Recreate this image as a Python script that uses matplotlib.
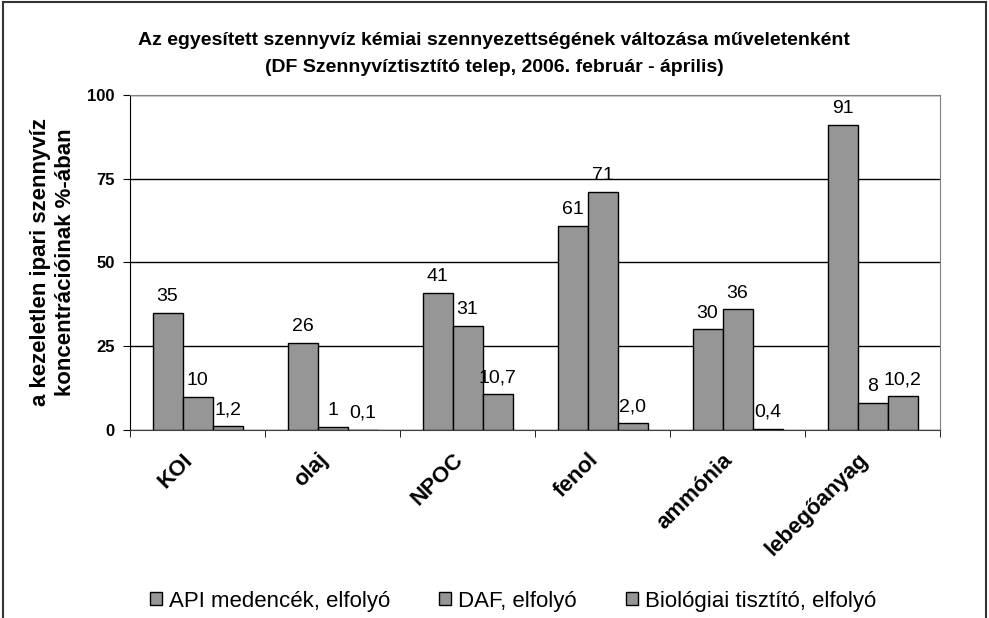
import matplotlib
matplotlib.use("Agg")
import matplotlib.pyplot as plt
import matplotlib.transforms as mtransforms
import numpy as np
from matplotlib.patches import Patch

plt.rcParams['font.family'] = ['Liberation Sans', 'DejaVu Sans']

categories = ["KOI", "olaj", "NPOC", "fenol", "ammónia", "lebegőanyag"]
series_names = ["API medencék, elfolyó", "DAF, elfolyó", "Biológiai tisztító, elfolyó"]
api_vals = [35, 26, 41, 61, 30, 91]
daf_vals = [10, 1, 31, 71, 36, 8]
bio_vals = [1.2, 0.1, 10.7, 2.0, 0.4, 10.2]
api_labels = ["35", "26", "41", "61", "30", "91"]
daf_labels = ["10", "1", "31", "71", "36", "8"]
bio_labels = ["1,2", "0,1", "10,7", "2,0", "0,4", "10,2"]
yticks = [0, 25, 50, 75, 100]
title = ("Az egyesített szennyvíz kémiai szennyezettségének változása műveletenként\n"
         "(DF Szennyvíztisztító telep, 2006. február - április)")
ylabel = "a kezeletlen ipari szennyvíz\nkoncentrációinak %-ában"

fig = plt.figure(figsize=(9.89, 6.18), dpi=100)
# figure border (left, top, right)
for xs, ys in [([0.003, 0.003], [0, 0.997]), ([0.003, 0.997], [0.997, 0.997]), ([0.997, 0.997], [0, 0.997])]:
    fig.add_artist(plt.Line2D(xs, ys, transform=fig.transFigure, color='#333333', lw=1.5))

ax = fig.add_axes([130/989, 1-430/618, 810/989, 335/618])
n = len(categories)
x = np.arange(n)
w = 30/135
bar_color = '#969696'
all_vals = [api_vals, daf_vals, bio_vals]
all_labels = [api_labels, daf_labels, bio_labels]
for i, (vals, labs) in enumerate(zip(all_vals, all_labels)):
    pos = x + (i - 1) * w
    ax.bar(pos, vals, width=w, color=bar_color, edgecolor='black', linewidth=1, zorder=3)
    for p, v, l in zip(pos, vals, labs):
        ax.text(p, v + 2.3, l, ha='center', va='bottom', fontsize=14, zorder=4)

ax.set_xlim(-0.5, n - 0.5)
ax.set_ylim(0, 100)
ax.set_yticks(yticks)
ax.set_yticklabels([str(t) for t in yticks], fontsize=12, fontweight='bold')
ax.yaxis.grid(True, color='black', lw=1, zorder=0)
ax.set_axisbelow(True)

ax.set_xticks(x)
ax.set_xticklabels(categories, rotation=45, ha='right', va='top', rotation_mode='anchor',
                   fontsize=16, fontweight='bold')
ax.tick_params(axis='x', which='major', length=0, pad=14)
offset = mtransforms.ScaledTranslation(-15/100, 0, fig.dpi_scale_trans)
for lab in ax.get_xticklabels():
    lab.set_transform(lab.get_transform() + offset)
ax.set_xticks(np.arange(-0.5, n, 1), minor=True)
ax.tick_params(axis='x', which='minor', length=5, direction='out', color='black')
ax.tick_params(axis='y', length=5, direction='out', pad=6)

for s in ['top', 'right']:
    ax.spines[s].set_color('#808080')
ax.spines['left'].set_color('black')
ax.spines['bottom'].set_color('#404040')

ax.set_ylabel(ylabel, fontsize=16, fontweight='bold', linespacing=1.25)
ax.yaxis.set_label_coords(-(130 - 76) / 810, 0.5)

fig.text(494/989, 1 - 54/618, title, ha='center', va='center',
         fontsize=14, fontweight='bold', linespacing=1.8)

handles = [Patch(facecolor=bar_color, edgecolor='black', lw=1) for _ in series_names]
fig.legend(handles, series_names, loc='center', bbox_to_anchor=(513/989, 1 - 601/618),
           ncol=3, frameon=False, fontsize=16, handlelength=0.55, handleheight=0.55,
           handletextpad=0.3, columnspacing=2.2)

fig.savefig("out.png", dpi=100)
